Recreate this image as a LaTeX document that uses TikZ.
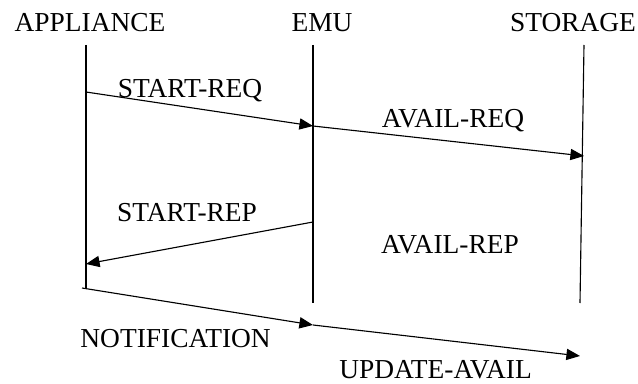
\documentclass[tikz,border=0pt]{standalone}
\usepackage{fontspec}
\setmainfont{Liberation Serif}
\usetikzlibrary{arrows.meta}

\begin{document}
\begin{tikzpicture}[scale=1,
    lbl/.style={anchor=base, inner sep=0pt, font=\fontsize{19.5}{22}\selectfont},
    msg/.style={-{Triangle[length=3.4mm,width=2.8mm]}, line width=0.8pt}]
    \useasboundingbox (0,0) rectangle (15.95,9.575);
    % Heads
    \node[lbl] (appl) at (2.25,8.775) {APPLIANCE};
    \node[lbl] (emu) at (8.05,8.775) {EMU};
    \node[lbl] (stor) at (14.325,8.775) {STORAGE};
    % Lifelines
    \coordinate (at) at (2.15,8.45);
    \coordinate (ab) at (2.15,2.375);
    \coordinate (et) at (7.825,8.45);
    \coordinate (eb) at (7.825,2.0);
    \coordinate (st) at (14.6,8.45);
    \coordinate (sb) at (14.5,2.0);
    \draw[line width=0.8pt] (at) -- (ab);
    \draw[line width=0.8pt] (et) -- (eb);
    \draw[line width=0.8pt] (st) -- (sb);
    % Messages
    \coordinate (a1) at (2.15,7.275);
    \coordinate (e1) at (7.825,6.425);
    \coordinate (s1) at (14.6,5.675);
    \coordinate (e2) at (7.825,4.025);
    \coordinate (a2) at (2.15,2.975);
    \coordinate (a3) at (2.05,2.375);
    \coordinate (e3) at (7.825,1.45);
    \coordinate (s3) at (14.5,0.675);
    \draw[msg] (a1) -- (e1);
    \draw[msg] (e1) -- (s1);
    \draw[msg] (e2) -- (a2);
    \draw[msg] (a3) -- (e3);
    \draw[msg] (e3) -- (s3);
    % Labels
    \node[lbl] (sreq) at (4.75,7.15) {START-REQ};
    \node[lbl] (areq) at (11.325,6.375) {AVAIL-REQ};
    \node[lbl] (srep) at (4.675,4.025) {START-REP};
    \node[lbl] (arep) at (11.25,3.25) {AVAIL-REP};
    \node[lbl] (noti) at (4.39,0.9) {NOTIFICATION};
    \node[lbl] (upd) at (10.89,0.125) {UPDATE-AVAIL};
\end{tikzpicture}
\end{document}
